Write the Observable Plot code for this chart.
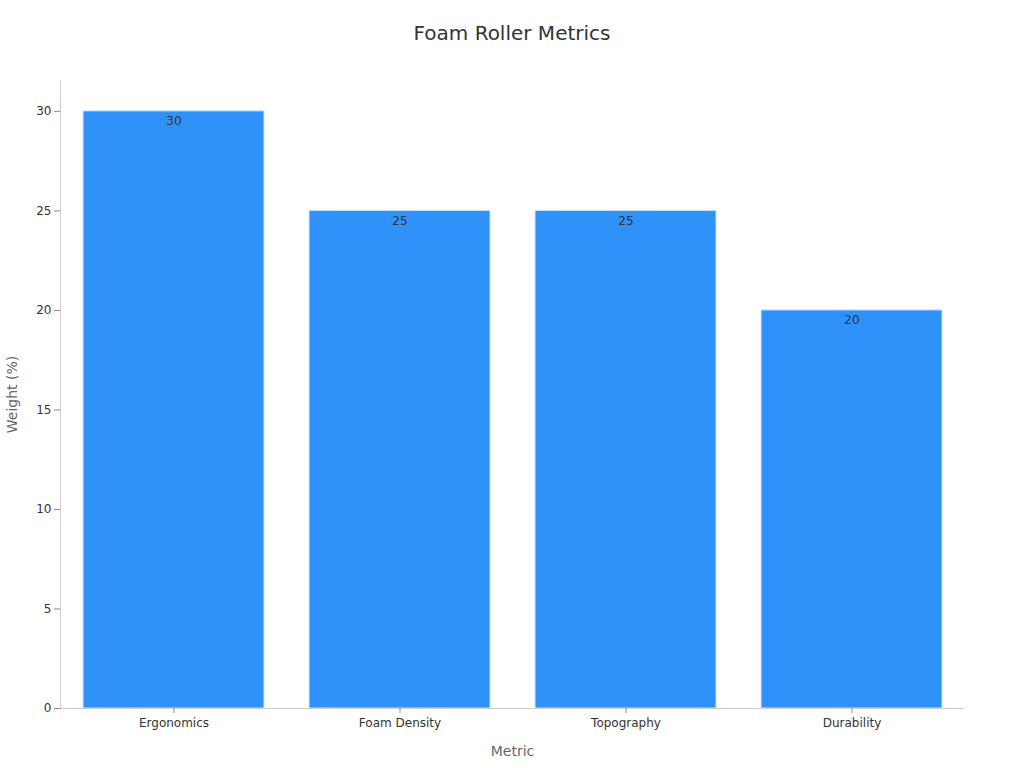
<!DOCTYPE html>
<html>
<head>
<meta charset="utf-8">
<script src="https://cdn.jsdelivr.net/npm/d3@7"></script>
<script src="https://cdn.jsdelivr.net/npm/@observablehq/plot@0.6"></script>
<style>
  body { margin: 0; background: #fff; font-family: "DejaVu Sans", sans-serif; }
  #title { height: 60px; line-height: 66px; text-align: center; font-size: 20px; color: #333; }
  #chart svg { display: block; }
</style>
</head>
<body>
<div id="title">Foam Roller Metrics</div>
<div id="chart"></div>
<script>
const categories = ["Ergonomics", "Foam Density", "Topography", "Durability"];
const weights = [30, 25, 25, 20];
const yTicks = [0, 5, 10, 15, 20, 25, 30];

const data = categories.map((c, i) => ({metric: c, weight: weights[i]}));

const chart = Plot.plot({
  width: 1024,
  height: 708,
  marginTop: 20,
  marginBottom: 60,
  marginLeft: 60,
  marginRight: 60,
  style: {fontFamily: "DejaVu Sans, sans-serif", fontSize: "12px", color: "#333", background: "#fff"},
  x: {domain: categories, paddingInner: 0.2, paddingOuter: 0.1},
  y: {domain: [0, 31.55]},
  marks: [
    Plot.barY(data, {x: "metric", y: "weight", fill: "#2f92f9", stroke: "#cfe5fd", strokeWidth: 1}),
    Plot.text(data, {x: "metric", y: "weight", text: d => String(d.weight), dy: 10, fill: "#333", fontSize: 12}),
    Plot.frame({anchor: "left", stroke: "#ccc"}),
    Plot.ruleY([0], {stroke: "#ccc"}),
    Plot.axisY({ticks: yTicks, tickSize: 6, stroke: "#888", label: "Weight (%)", labelAnchor: "center", labelArrow: "none", labelOffset: 53, fontSize: 12, color: "#333"}),
    Plot.axisX({tickSize: 5, tickPadding: 5, stroke: "#888", label: "Metric", labelAnchor: "center", labelArrow: "none", labelOffset: 47, fontSize: 12})
  ]
});
d3.select(chart).selectAll("[aria-label='y-axis label'] text, [aria-label='x-axis label'] text").attr("fill", "#666").style("font-size", "14px");
document.getElementById("chart").appendChild(chart);
</script>
</body>
</html>
